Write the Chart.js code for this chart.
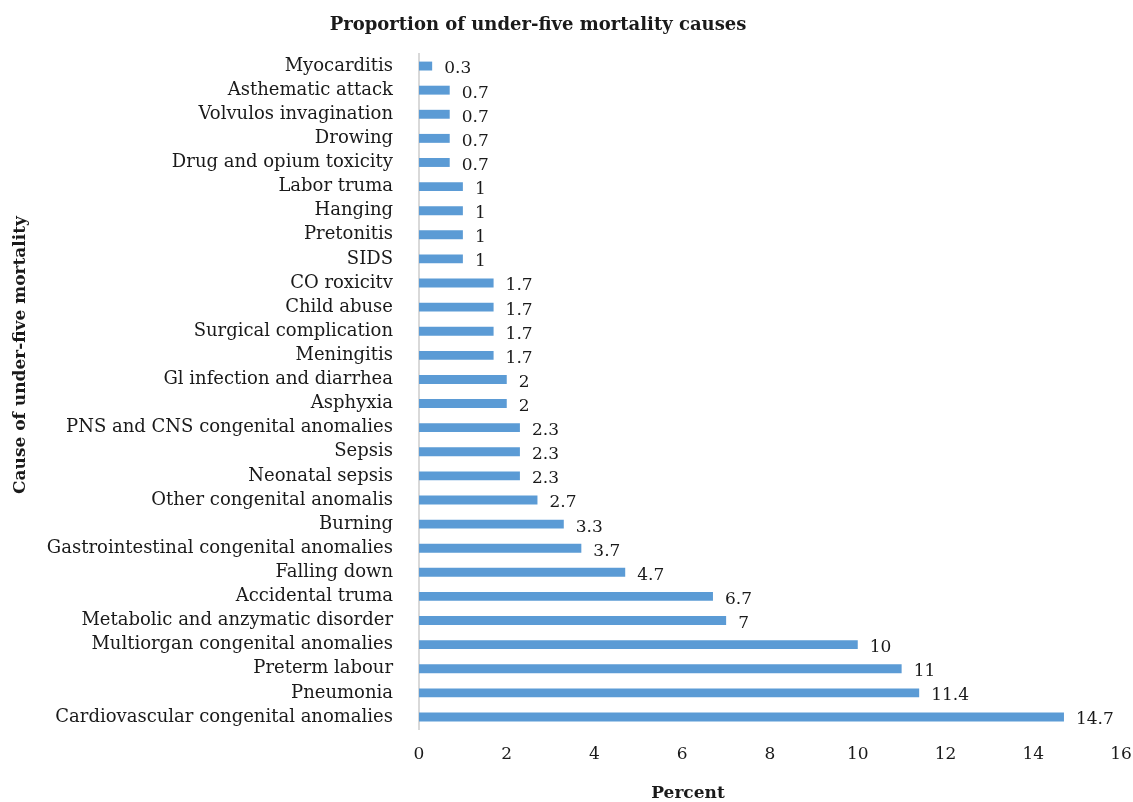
<!DOCTYPE html>
<html>
<head>
<meta charset="utf-8">
<script src="https://cdn.jsdelivr.net/npm/chart.js@4.4.1/dist/chart.umd.min.js"></script>
<style>
  html, body { margin: 0; padding: 0; background: #fff; }
  #wrap { width: 1133px; height: 802px; position: relative; }
</style>
</head>
<body>
<div id="wrap"><canvas id="c"></canvas></div>
<script>
// Causes of under-five mortality, listed top to bottom
const causes = [
  'Myocarditis', 'Asthematic attack', 'Volvulos invagination', 'Drowing',
  'Drug and opium toxicity', 'Labor truma', 'Hanging', 'Pretonitis', 'SIDS',
  'CO roxicitv', 'Child abuse', 'Surgical complication', 'Meningitis',
  'Gl infection and diarrhea', 'Asphyxia', 'PNS and CNS congenital anomalies',
  'Sepsis', 'Neonatal sepsis', 'Other congenital anomalis', 'Burning',
  'Gastrointestinal congenital anomalies', 'Falling down', 'Accidental truma',
  'Metabolic and anzymatic disorder', 'Multiorgan congenital anomalies',
  'Preterm labour', 'Pneumonia', 'Cardiovascular congenital anomalies'
];
// Percent of deaths per cause
const percents = [
  0.3, 0.7, 0.7, 0.7, 0.7, 1, 1, 1, 1, 1.7, 1.7, 1.7, 1.7, 2, 2,
  2.3, 2.3, 2.3, 2.7, 3.3, 3.7, 4.7, 6.7, 7, 10, 11, 11.4, 14.7
];
// Percent axis ticks
const xTicks = [0, 2, 4, 6, 8, 10, 12, 14, 16];

const TITLE = 'Proportion of under-five mortality causes';
const X_TITLE = 'Percent';
const Y_TITLE = 'Cause of under-five mortality';

const FONT = "'DejaVu Serif', serif";
const TEXT = '#1a1a1a';

// Writes each bar's value just past its end, plus the chart and axis titles
const annotations = {
  id: 'annotations',
  afterDatasetsDraw(chart) {
    const ctx = chart.ctx;
    const meta = chart.getDatasetMeta(0);
    ctx.save();
    ctx.font = '17px ' + FONT;
    ctx.fillStyle = TEXT;
    ctx.textAlign = 'left';
    ctx.textBaseline = 'middle';
    meta.data.forEach((bar, i) => {
      ctx.fillText(String(percents[i]), bar.x + 12, bar.y + 3);
    });

    ctx.font = 'bold 18px ' + FONT;
    ctx.textAlign = 'center';
    ctx.fillText(TITLE, 538, 25);

    ctx.font = 'bold 17px ' + FONT;
    ctx.fillText(X_TITLE, 688, 794);

    ctx.translate(21, 355);
    ctx.rotate(-Math.PI / 2);
    ctx.fillText(Y_TITLE, 0, 0);
    ctx.restore();
  }
};

new Chart(document.getElementById('c'), {
  type: 'bar',
  data: {
    labels: causes,
    datasets: [{
      data: percents,
      backgroundColor: '#5b9bd5',
      borderWidth: 0,
      barPercentage: 0.37,
      categoryPercentage: 1
    }]
  },
  options: {
    indexAxis: 'y',
    responsive: true,
    maintainAspectRatio: false,
    animation: false,
    layout: { padding: { top: 54, right: 0, bottom: 0, left: 0 } },
    plugins: {
      legend: { display: false },
      tooltip: { enabled: false },
      title: { display: false }
    },
    scales: {
      x: {
        min: 0,
        max: 16,
        afterBuildTicks: s => { s.ticks = xTicks.map(v => ({ value: v })); },
        grid: { display: false },
        border: { display: false },
        ticks: {
          color: TEXT,
          padding: 7,
          font: { family: FONT, size: 17 }
        },
        afterFit: s => {
          s.height = 73;
          s.paddingLeft = 0;
          s.paddingRight = 12;
        }
      },
      y: {
        grid: { display: false },
        border: { display: true, color: '#d9d9d9', width: 2 },
        ticks: {
          color: TEXT,
          padding: 18,
          autoSkip: false,
          font: { family: FONT, size: 18 }
        },
        afterFit: s => { s.width = 419; }
      }
    }
  },
  plugins: [annotations]
});
</script>
</body>
</html>
